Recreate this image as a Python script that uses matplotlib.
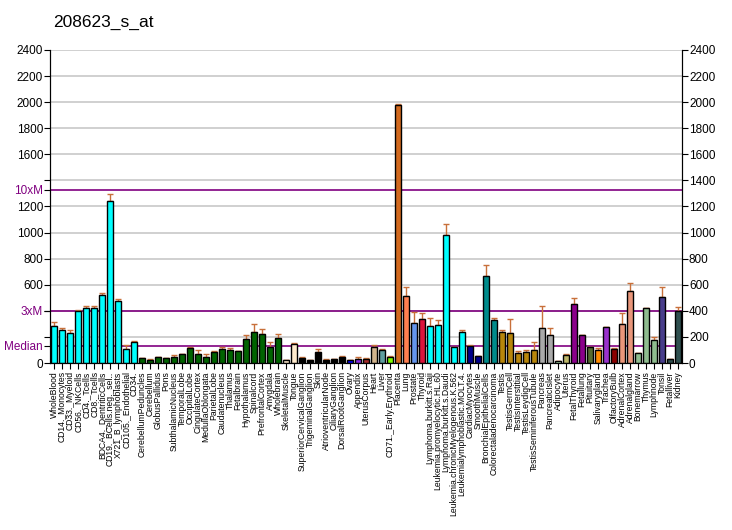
import matplotlib
matplotlib.use("Agg")
import matplotlib.pyplot as plt
from matplotlib import font_manager
import numpy as np

plt.rcParams['font.family'] = ['Liberation Sans', 'DejaVu Sans']

title = "208623_s_at"

tissues = [
    "WholeBlood", "CD14._Monocytes", "CD33._Myeloid", "CD56._NKCells", "CD4._Tcells",
    "CD8._Tcells", "BDCA4._DentriticCells", "CD19._BCells.neg._sel..", "X721_B_lymphoblasts",
    "CD105._Endothelial", "CD34.", "CerebellumPeduncles", "Cerebellum", "GlobusPallidus",
    "Pons", "SubthalamicNucleus", "TemporalLobe", "OccipitalLobe", "CingulateCortex",
    "MedullaOblongata", "ParietalLobe", "Caudatenucleus", "Thalamus", "Fetalbrain",
    "Hypothalamus", "Spinalcord", "PrefrontalCortex", "Amygdala", "Wholebrain",
    "SkeletalMuscle", "Tongue", "SuperiorCervicalGanglion", "TrigeminalGanglion", "Skin",
    "AtrioventricularNode", "CiliaryGanglion", "DorsalRootGanglion", "Ovary", "Appendix",
    "UterusCorpus", "Heart", "Liver", "CD71._Early.Erythroid", "Placenta", "Lung",
    "Prostate", "Thyroid", "Lymphoma.burkitt.s.Raji", "Leukemia.promyelocytic.HL.60",
    "Lymphoma.burkitt.s.Daudi", "Leukemia.chronicMyelogenous.K.562",
    "Leukemialymphoblastic.MOLT.4.", "CardiacMyocytes", "SmoothMuscle",
    "BronchialEpithelialCells", "Colorectaladenocarcinoma", "Testis", "TestisGermCell",
    "TestisInterstitial", "TestisLeydigCell", "TestisSeminiferousTubule", "Pancreas",
    "PancreaticIslet", "Adipocyte", "Uterus", "FetalThyroid", "Fetallung", "Pituitary",
    "Salivarygland", "Trachea", "OlfactoryBulb", "AdrenalCortex", "Adrenalgland",
    "Bonemarrow", "Thymus", "Lymphnode", "Tonsil", "Fetalliver", "Kidney",
]

values = [
    281, 251, 230, 396, 419, 419, 519, 1242, 473, 105, 159,
    36, 20, 43, 36, 43, 67, 113, 67, 43, 84,
    105, 97, 89, 182, 235, 220, 125, 189,
    20, 143, 38, 20, 82, 23, 31, 46, 20, 33, 28, 120, 97, 43,
    1978, 511, 307, 337, 284, 291, 981, 123, 238, 130, 54, 667, 330,
    238, 230, 77, 84, 100, 268, 215, 13, 58, 452, 212, 120, 100, 274, 105,
    299, 550, 74, 419, 176, 504, 28, 396,
]

errors = [
    31, 15, 21, 13, 15, 15, 14, 51, 15, 31, 7,
    0, 8, 0, 0, 16, 0, 8, 30, 24, 5,
    15, 16, 0, 33, 64, 38, 33, 33,
    0, 8, 8, 0, 23, 8, 0, 5, 0, 16, 8, 16, 8, 8,
    10, 69, 87, 44, 58, 39, 82, 0, 13, 5, 0, 82, 12,
    15, 105, 12, 13, 59, 169, 53, 0, 13, 44, 0, 0, 13, 5, 13,
    82, 61, 5, 5, 26, 81, 0, 36,
]

colors = (
    ["#00FFFF"] * 11 + ["#006400"] * 18 + ["#FFEBCD"] * 2 + ["#000000"] * 6
    + ["#0000FF", "#8A2BE2", "#A52A2A", "#D2B48C", "#5F9EA0", "#7CFC00",
       "#D2691E", "#FF7F50", "#6495ED", "#DC143C"]
    + ["#00FFFF"] * 5 + ["#00008B"] * 2 + ["#008B8B"] * 2 + ["#B8860B"] * 5
    + ["#A9A9A9"] * 2 + ["#C1FFC1", "#BDB76B", "#8B008B", "#8B008B", "#556B2F",
                         "#FF8C00", "#9932CC", "#8B0000", "#E9967A", "#E9967A"]
    + ["#8FBC8F"] * 3 + ["#483D8B", "#2F4F4F", "#2F4F4F"]
)

median = 133
purple = "#800080"

# pick a narrow face for the long tissue names if one is installed
installed = {f.name for f in font_manager.fontManager.ttflist}
if "Liberation Sans Narrow" in installed:
    label_font, label_size = "Liberation Sans Narrow", 7.5
elif "DejaVu Sans Condensed" in installed:
    label_font, label_size = "DejaVu Sans Condensed", 6.5
else:
    label_font, label_size = "Liberation Sans", 6.2

fig = plt.figure(figsize=(7.32, 5.30), dpi=100)
ax = fig.add_axes([50 / 732, 167 / 530, 632 / 732, 313 / 530])

x = np.arange(len(values))

for yv in range(200, 2401, 200):
    ax.axhline(yv, color="#C8C8C8", lw=1.2, zorder=0)
for yv in [median, 3 * median, 10 * median]:
    ax.axhline(yv, color=purple, lw=1.2, zorder=1)

ax.bar(x, values, width=0.75, color=colors, edgecolor="black", linewidth=1.0, zorder=3)
ax.errorbar(x, values, yerr=[np.zeros(len(errors)), errors], fmt="none",
            ecolor="#C8703A", elinewidth=1.0, capsize=2.5, capthick=1.0, zorder=2)

ax.set_xlim(-0.5, len(values) - 0.5)
ax.set_ylim(0, 2400)

ax.set_xticks(x)
ax.set_xticklabels(tissues, rotation=90, fontsize=label_size, family=[label_font, 'DejaVu Sans'])
ax.tick_params(axis="x", length=4, pad=2)

left_ticks = list(range(0, 2401, 200))
left_labels = ["" if t in (200, 400, 1400) else str(t) for t in left_ticks]
ax.set_yticks(left_ticks + [median, 3 * median, 10 * median])
ax.set_yticklabels(left_labels + ["Median", "3xM", "10xM"], fontsize=8.5)
for lbl in ax.get_yticklabels()[-3:]:
    lbl.set_color(purple)
ax.tick_params(axis="y", length=4, pad=1)

ax2 = ax.twinx()
ax2.set_ylim(0, 2400)
ax2.set_yticks(left_ticks)
ax2.set_yticklabels([str(t) for t in left_ticks], fontsize=8.5)
ax2.tick_params(axis="y", length=4, pad=1)

for a in (ax, ax2):
    a.spines["top"].set_visible(False)

fig.text(53 / 732, 1 - 22 / 530, title, fontsize=12.5, va="center", ha="left")

fig.savefig("out.png", dpi=100)
